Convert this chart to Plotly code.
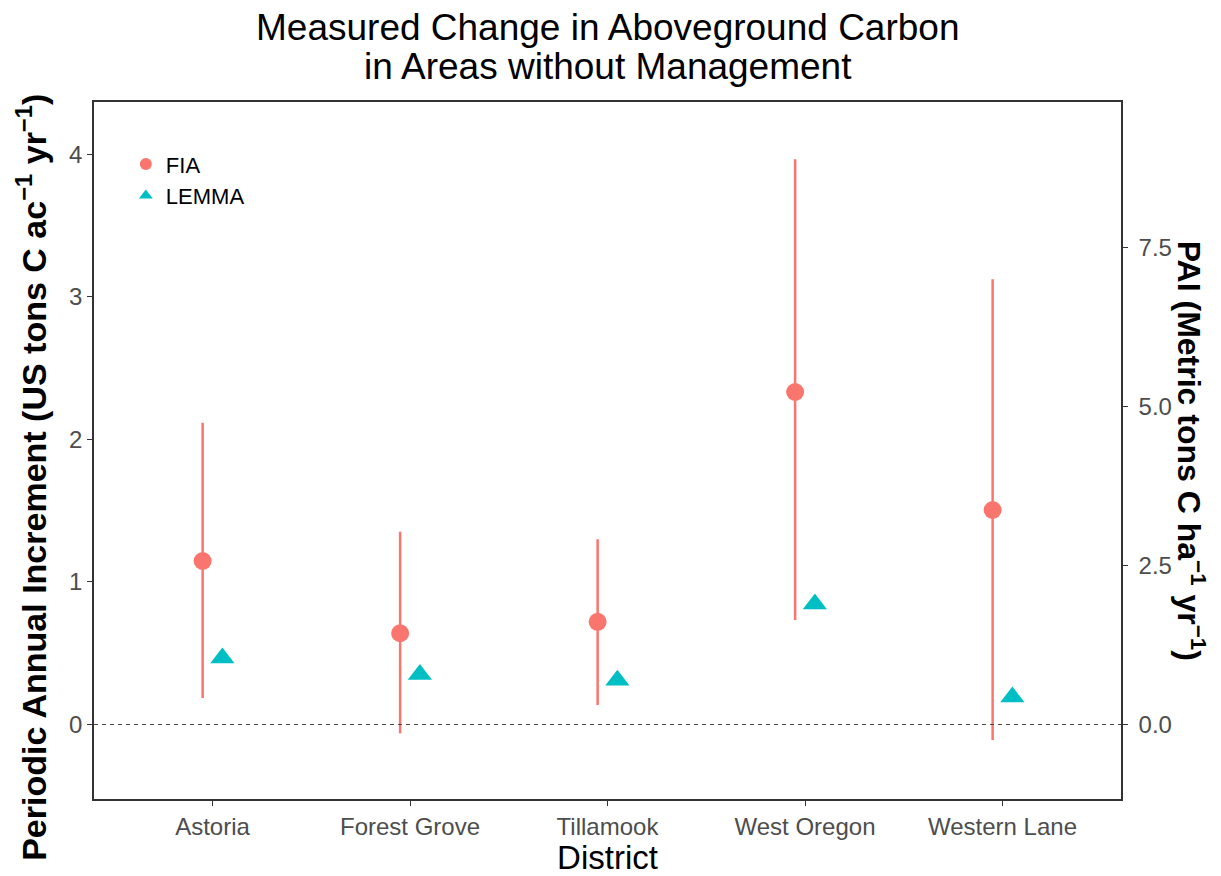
import plotly.graph_objects as go

# data
districts = ['Astoria', 'Forest Grove', 'Tillamook', 'West Oregon', 'Western Lane']
fia = [1.147, 0.64, 0.72, 2.333, 1.505]
fia_lo = [0.186, -0.062, 0.137, 0.733, -0.109]
fia_hi = [2.118, 1.353, 1.30, 3.966, 3.124]
lemma = [0.467, 0.35, 0.31, 0.846, 0.193]

TON_AC_TO_MG_HA = 0.907185 / 0.404686
dodge = 0.05
pos = list(range(len(districts)))

fig = go.Figure()
# FIA points with confidence bars
fig.add_trace(go.Scatter(x=[p - dodge for p in pos],
                         y=fia,
                         mode='markers',
                         name='FIA',
                         marker=dict(color='#F8766D', size=18, symbol='circle'),
                         error_y=dict(type='data',
                                      array=[h - v for h, v in zip(fia_hi, fia)],
                                      arrayminus=[v - l for v, l in zip(fia, fia_lo)],
                                      color='#F8766D', thickness=2.5, width=0)))
# LEMMA points
fig.add_trace(go.Scatter(x=[p + dodge for p in pos],
                         y=lemma,
                         mode='markers',
                         name='LEMMA',
                         marker=dict(color='#00BFC4', size=21, symbol='triangle-up')))

ymin, ymax = -0.523, 4.368
fig.add_hline(y=0, line=dict(color='#444444', width=1, dash='4px,4px'))

axis_font = dict(family='Liberation Sans, Arial', size=24, color='#4D4D4D')
fig.update_layout(
    width=1213, height=868,
    margin=dict(l=86, r=100, t=94, b=77, autoexpand=False),
    plot_bgcolor='white', paper_bgcolor='white',
    font=dict(family='Liberation Sans, Arial', color='black'),
    showlegend=True,
    legend=dict(x=0.031, y=0.941, xanchor='left', yanchor='top',
                bgcolor='rgba(0,0,0,0)', font=dict(size=22, color='black'),
                itemsizing='constant'),
    xaxis=dict(range=[-0.6, 4.6], tickmode='array', tickvals=pos, ticktext=districts,
               showgrid=False, zeroline=False, showline=True, linecolor='#333333',
               linewidth=1.5, mirror=True, ticks='outside', ticklen=5, automargin=False,
               tickcolor='#333333', tickfont=axis_font,
               title=dict(text='District', font=dict(size=33, color='black'), standoff=6)),
    yaxis=dict(range=[ymin, ymax], tickvals=[0, 1, 2, 3, 4], showgrid=False,
               zeroline=False, showline=True, linecolor='#333333', linewidth=1.5,
               ticks='outside', ticklen=5, tickcolor='#333333', tickfont=axis_font,
               automargin=False),
    yaxis2=dict(range=[ymin * TON_AC_TO_MG_HA, ymax * TON_AC_TO_MG_HA],
                overlaying='y', side='right', tickvals=[0, 2.5, 5, 7.5],
                tickformat='.1f', showgrid=False, zeroline=False, showline=True,
                linecolor='#333333', linewidth=1.5, ticks='outside', ticklen=5,
                tickcolor='#333333', tickfont=axis_font, ticklabelstandoff=6,
                automargin=False),
)
# invisible trace so the right axis is drawn
fig.add_trace(go.Scatter(x=[None], y=[None], yaxis='y2', showlegend=False, hoverinfo='skip'))

# two-line title
fig.add_annotation(text='Measured Change in Aboveground Carbon', xref='paper', yref='paper',
                   x=0.5, y=1.107, xanchor='center', yanchor='middle', showarrow=False,
                   font=dict(size=37, color='black'))
fig.add_annotation(text='in Areas without Management', xref='paper', yref='paper',
                   x=0.5, y=1.051, xanchor='center', yanchor='middle', showarrow=False,
                   font=dict(size=37, color='black'))

fig.add_annotation(text='<b>Periodic Annual Increment (US tons C ac<sup>\u22121</sup> yr<sup>\u22121</sup>)</b>',
                   xref='paper', yref='paper', x=-0.0605, y=0.462, xanchor='center', yanchor='middle',
                   textangle=-90, showarrow=False, font=dict(size=34, color='black'))
fig.add_annotation(text='<b>PAI (Metric tons C ha<sup>\u22121</sup> yr<sup>\u22121</sup>)</b>',
                   xref='paper', yref='paper', x=1.069, y=0.5, xanchor='center', yanchor='middle',
                   textangle=90, showarrow=False, font=dict(size=32, color='black'))

fig.write_html('out.html')
